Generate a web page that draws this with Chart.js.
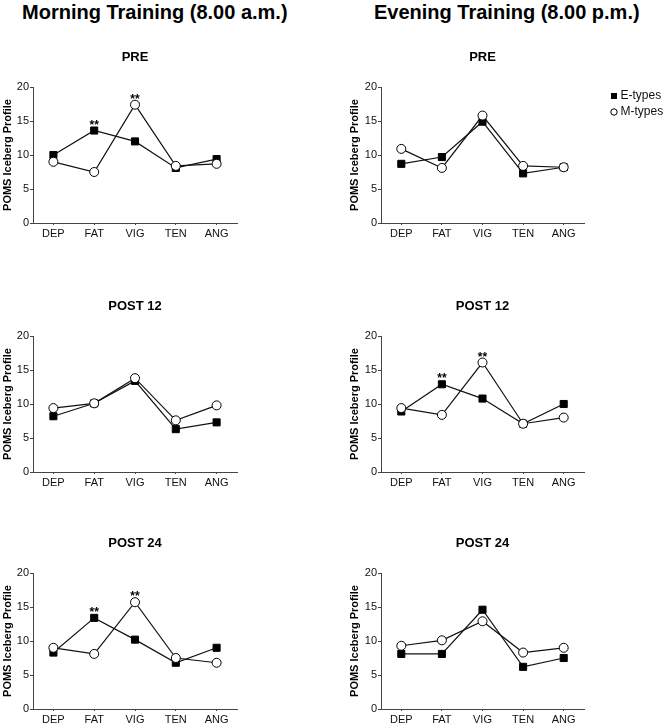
<!DOCTYPE html>
<html>
<head>
<meta charset="utf-8">
<script src="https://cdn.jsdelivr.net/npm/chart.js@4.4.0/dist/chart.umd.min.js"></script>
<style>
  body { margin: 0; background: #fff; overflow: hidden; }
  #page { position: relative; width: 666px; height: 725px; font-family: "Liberation Sans", Arial, sans-serif; }
  .heading { position: absolute; top: 2px; font-weight: bold; font-size: 20px; line-height: 20px; color: #000; white-space: nowrap; }
  .panel { position: absolute; width: 333px; height: 200px; }
</style>
</head>
<body>
<div id="page">
  <div class="heading" style="left:22px">Morning Training (8.00 a.m.)</div>
  <div class="heading" style="left:374px">Evening Training (8.00 p.m.)</div>
  <div class="panel" style="left:0;top:40px"><canvas id="morningPre"></canvas></div>
  <div class="panel" style="left:333px;top:40px"><canvas id="eveningPre"></canvas></div>
  <div class="panel" style="left:0;top:289px"><canvas id="morningPost12"></canvas></div>
  <div class="panel" style="left:333px;top:289px"><canvas id="eveningPost12"></canvas></div>
  <div class="panel" style="left:0;top:526px"><canvas id="morningPost24"></canvas></div>
  <div class="panel" style="left:333px;top:526px"><canvas id="eveningPost24"></canvas></div>
</div>
<script>
const categories = ["DEP", "FAT", "VIG", "TEN", "ANG"];
const seriesNames = ["E-types", "M-types"];

// values (POMS scores)
const morningPreE = [10.0, 13.6, 12.0, 8.1, 9.4];
const morningPreM = [9.0, 7.5, 17.4, 8.4, 8.7];
const eveningPreE = [8.7, 9.7, 14.9, 7.3, 8.2];
const eveningPreM = [10.9, 8.1, 15.8, 8.4, 8.2];
const morningPost12E = [8.2, 10.1, 13.4, 6.3, 7.3];
const morningPost12M = [9.4, 10.1, 13.8, 7.6, 9.8];
const eveningPost12E = [8.9, 12.9, 10.8, 7.1, 10.0];
const eveningPost12M = [9.4, 8.4, 16.1, 7.1, 8.0];
const morningPost24E = [8.3, 13.4, 10.2, 6.8, 9.0];
const morningPost24M = [9.0, 8.1, 15.7, 7.5, 6.8];
const eveningPost24E = [8.1, 8.1, 14.6, 6.2, 7.5];
const eveningPost24M = [9.3, 10.1, 12.9, 8.3, 9.0];

// ** marks (1 = significant difference at that category)
const sigMorningPre = [0, 1, 1, 0, 0];
const sigEveningPre = [0, 0, 0, 0, 0];
const sigMorningPost12 = [0, 0, 0, 0, 0];
const sigEveningPost12 = [0, 1, 1, 0, 0];
const sigMorningPost24 = [0, 1, 1, 0, 0];
const sigEveningPost24 = [0, 0, 0, 0, 0];

const yTicks = [0, 5, 10, 15, 20];

Chart.defaults.font.family = '"Liberation Sans", Arial, sans-serif';
Chart.defaults.color = "#111";

// draws "**" above the higher point of a category
const starsPlugin = {
  id: "stars",
  afterDatasetsDraw(chart, args, opts) {
    const sig = opts.sig || [];
    const ctx = chart.ctx;
    ctx.save();
    ctx.font = "bold 12px 'Liberation Sans', Arial, sans-serif";
    ctx.fillStyle = "#000";
    ctx.textAlign = "center";
    ctx.textBaseline = "alphabetic";
    sig.forEach((s, i) => {
      if (!s) return;
      let x = 0, y = Infinity;
      chart.data.datasets.forEach((ds, d) => {
        const pt = chart.getDatasetMeta(d).data[i];
        if (pt.y < y) { y = pt.y; x = pt.x; }
      });
      ctx.fillText("**", x, y - 2);
    });
    ctx.restore();
  },
};

// small legend to the right of the plot
const sideLegend = {
  id: "sideLegend",
  afterDraw(chart, args, opts) {
    if (!opts.show) return;
    const ctx = chart.ctx;
    const area = chart.chartArea;
    ctx.save();
    ctx.font = "12px 'Liberation Sans', Arial, sans-serif";
    ctx.textBaseline = "middle";
    chart.data.datasets.forEach((ds, i) => {
      const cx = area.right + 30;
      const cy = area.top + 9 + i * 16;
      ctx.lineWidth = 1;
      ctx.strokeStyle = "#000";
      ctx.fillStyle = ds.backgroundColor;
      if (ds.pointStyle === "rect") {
        ctx.fillRect(cx - 3, cy - 3, 6, 6);
      } else {
        ctx.beginPath();
        ctx.arc(cx, cy, 3.2, 0, Math.PI * 2);
        ctx.fill();
        ctx.stroke();
      }
      ctx.fillStyle = "#111";
      ctx.fillText(ds.label, cx + 6.5, cy);
    });
    ctx.restore();
  },
};

function makePanel(id, title, eVals, mVals, sig, col, showLegend) {
  const ctx = document.getElementById(id).getContext("2d");
  return new Chart(ctx, {
    type: "line",
    data: {
      labels: categories,
      datasets: [
        {
          label: seriesNames[0],
          data: eVals,
          order: 1,
          borderColor: "#111",
          borderWidth: 1.2,
          backgroundColor: "#000",
          pointStyle: "rect",
          pointRadius: 5,
          pointBorderWidth: 1,
          pointBorderColor: "#000",
          pointBackgroundColor: "#000",
          tension: 0,
          fill: false,
        },
        {
          label: seriesNames[1],
          data: mVals,
          order: 0,
          borderColor: "#111",
          borderWidth: 1.2,
          backgroundColor: "#fff",
          pointStyle: "circle",
          pointRadius: 4.5,
          pointBorderWidth: 1,
          pointBorderColor: "#000",
          pointBackgroundColor: "#fff",
          tension: 0,
          fill: false,
        },
      ],
    },
    options: {
      responsive: true,
      maintainAspectRatio: false,
      animation: false,
      layout: { padding: { left: col ? 14 : 0, right: col ? 82 : 96, top: 0, bottom: 0 } },
      plugins: {
        legend: { display: false },
        tooltip: { enabled: false },
        title: {
          display: true,
          text: title,
          fullSize: false,
          color: "#000",
          font: { size: 13, weight: "bold" },
          padding: { top: 10, bottom: 21.4 },
        },
        stars: { sig: sig },
        sideLegend: { show: showLegend },
      },
      scales: {
        x: {
          offset: true,
          ticks: { font: { size: 11 }, color: "#111", padding: 2 },
          grid: { drawOnChartArea: false, drawTicks: true, tickLength: 2, color: "#444" },
          border: { color: "#444", width: 1 },
          afterFit(scale) { scale.height = 17; },
        },
        y: {
          min: yTicks[0],
          max: yTicks[yTicks.length - 1],
          afterBuildTicks(scale) { scale.ticks = yTicks.map((v) => ({ value: v })); },
          ticks: { font: { size: 11 }, color: "#111", padding: 1 },
          grid: { drawOnChartArea: false, drawTicks: true, tickLength: 3, color: "#444" },
          border: { color: "#444", width: 1 },
          title: {
            display: true,
            text: "POMS Iceberg Profile",
            color: "#000",
            font: { size: 11, weight: "bold" },
            padding: { top: 1, bottom: 0 },
          },
          afterFit(scale) { scale.width = col ? 34 : 33; },
        },
      },
    },
    plugins: [starsPlugin, sideLegend],
  });
}

makePanel("morningPre", "PRE", morningPreE, morningPreM, sigMorningPre, 0, false);
makePanel("eveningPre", "PRE", eveningPreE, eveningPreM, sigEveningPre, 1, true);
makePanel("morningPost12", "POST 12", morningPost12E, morningPost12M, sigMorningPost12, 0, false);
makePanel("eveningPost12", "POST 12", eveningPost12E, eveningPost12M, sigEveningPost12, 1, false);
makePanel("morningPost24", "POST 24", morningPost24E, morningPost24M, sigMorningPost24, 0, false);
makePanel("eveningPost24", "POST 24", eveningPost24E, eveningPost24M, sigEveningPost24, 1, false);
</script>
</body>
</html>
